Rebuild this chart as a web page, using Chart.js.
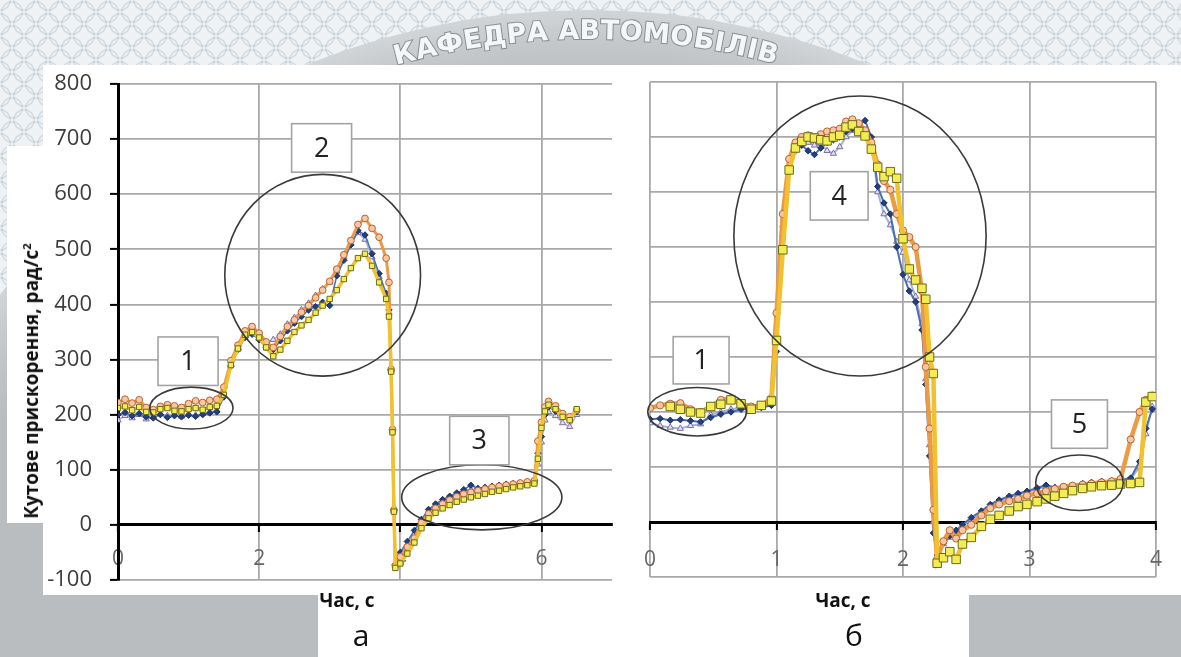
<!DOCTYPE html>
<html lang="uk">
<head>
<meta charset="utf-8">
<title>Кутове прискорення</title>
<script src="https://cdn.jsdelivr.net/npm/chart.js@4.4.1/dist/chart.umd.min.js"></script>
<style>
  html, body { margin: 0; padding: 0; }
  body {
    width: 1181px; height: 657px; position: relative; overflow: hidden;
    background-color: #eff2f4;
    background-image:
      radial-gradient(circle, transparent 9px, rgba(160,176,190,0.42) 10px, transparent 11.5px),
      radial-gradient(circle, transparent 9px, rgba(160,176,190,0.42) 10px, transparent 11.5px);
    background-size: 24px 24px;
    background-position: 0 0, 12px 12px;
    font-family: "Open Sans", sans-serif;
  }
  #seal { position: absolute; left: 0; top: 0; }
  .panel { position: absolute; background: #fff; }
  canvas.plot { position: absolute; top: 0; }
  #ytitle {
    position: absolute; left: 31px; top: 381px; white-space: nowrap;
    transform: translate(-50%, -50%) rotate(-90deg);
    font: bold 19px "Open Sans", sans-serif; color: #111; line-height: 22px;
  }
  #ytitle sup { font-size: 0.6em; line-height: 0; }
  .xt {
    position: absolute; top: 590px; transform: translateX(-50%); white-space: nowrap;
    font: bold 19px "Open Sans", sans-serif; color: #111; line-height: 20px;
  }
  .cap {
    position: absolute; top: 620px; transform: translateX(-50%);
    font: 30px "Open Sans", sans-serif; color: #111; line-height: 30px;
  }
</style>
</head>
<body>
<canvas id="seal" width="1181" height="657"></canvas>
<div class="panel" style="left:43px;top:65px;width:1138px;height:530px"></div>
<div class="panel" style="left:7px;top:146px;width:36px;height:377px"></div>
<div class="panel" style="left:318px;top:595px;width:651px;height:62px"></div>
<canvas id="chartA" class="plot" width="625" height="657" style="left:0"></canvas>
<canvas id="chartB" class="plot" width="556" height="657" style="left:625px"></canvas>
<div id="ytitle">Кутове прискорення, рад/с<sup>2</sup></div>
<div class="xt" style="left:347px">Час, с</div>
<div class="xt" style="left:843px">Час, с</div>
<div class="cap" style="left:361px">а</div>
<div class="cap" style="left:854px">б</div>
<script>
// ---------- axis ticks ----------
const yTicks  = [-100, 0, 100, 200, 300, 400, 500, 600, 700, 800];
const xTicksA = [0, 2, 4, 6];
const xTicksB = [0, 1, 2, 3, 4];

// ---------- panel "а": time, s ----------
const tA = [0,0.1,0.2,0.3,0.4,0.5,0.6,0.7,0.8,0.9,1.0,1.1,1.2,1.3,1.4,
  1.5,1.6,1.7,1.8,1.9,2.0,2.1,2.2,2.3,2.4,2.5,2.6,2.7,2.8,2.9,
  3.0,3.1,3.2,3.3,3.4,3.5,3.6,3.7,3.8,
  3.84,3.87,3.89,3.91,3.93,
  4.0,4.1,4.2,4.3,4.4,4.5,4.6,4.7,4.8,4.9,5.0,5.1,5.2,5.3,5.4,5.5,5.6,5.7,5.8,5.9,
  5.95,6.0,6.05,6.1,
  6.2,6.3,6.4,6.5];

// angular acceleration, rad/s^2
const orangeA = [222,228,221,227,213,209,215,218,216,213,220,225,222,226,228,
  250,298,326,352,360,348,332,322,342,360,372,386,398,412,426,
  442,464,490,516,545,556,538,522,484,
  440,282,173,27,-74,
  -58,-40,-24,4,20,30,38,45,51,56,59,62,65,68,70,72,74,76,78,80,
  152,186,214,224,
  216,202,196,208];
const yellowA = [212,215,208,214,205,204,210,212,207,206,210,212,209,214,216,
  236,290,320,345,350,340,322,306,318,334,350,362,372,385,398,
  410,426,446,466,484,492,470,440,410,
  378,278,168,24,-78,
  -70,-52,-32,-6,12,22,30,36,42,46,50,53,56,60,62,65,68,70,72,75,
  120,176,206,218,
  210,196,190,210];
const blueA = [200,204,198,202,196,194,200,195,198,196,199,197,200,203,205,
  232,288,318,340,346,336,322,318,334,352,366,378,390,396,404,
  398,452,480,508,534,526,492,456,420,
  390,280,172,26,-72,
  -50,-30,-10,10,28,38,46,52,58,64,72,66,68,70,72,74,75,76,78,80,
  130,160,200,214,
  206,200,190,205];
const lilacA = [190,198,194,200,192,196,202,198,200,197,201,199,202,205,208,
  236,292,322,342,348,338,332,336,346,364,376,390,402,416,428,
  440,460,486,510,530,518,486,450,415,
  385,280,170,25,-74,
  -55,-36,-16,6,24,34,42,48,55,60,64,65,67,69,71,73,74,75,77,79,
  110,150,190,205,
  198,185,178,200];

// ---------- panel "б": time, s ----------
const tB = [0,0.08,0.16,0.24,0.32,0.40,0.48,0.56,0.64,0.72,0.80,0.88,0.96,
  1.00,1.05,1.10,1.15,1.20,1.25,1.30,1.35,1.40,1.45,1.50,1.55,1.60,1.65,1.70,1.75,1.80,1.85,1.90,1.95,2.00,2.05,2.10,2.15,
  2.18,2.21,2.24,2.27,
  2.32,2.37,2.42,2.47,
  2.54,2.62,2.69,2.76,2.84,2.91,2.98,3.06,3.13,3.20,3.27,3.34,3.42,3.49,3.57,3.65,3.72,3.80,3.87,3.92,3.97];

const orangeB = [207,212,215,216,205,200,210,222,225,215,210,212,225,
  380,560,660,690,700,703,700,705,710,712,715,728,732,725,712,690,650,620,604,560,530,518,500,420,
  282,170,22,-68,
  -35,-15,-30,-15,
  -5,12,25,32,38,42,48,52,56,60,64,66,68,70,72,74,78,150,200,222,230];
const yellowB = [null,null,210,205,200,198,210,214,222,215,205,212,220,
  330,495,640,680,692,700,698,695,693,700,703,718,722,710,702,678,645,628,637,625,515,460,440,425,
  405,300,270,-75,
  -65,-54,-68,-40,
  -28,-8,5,12,20,28,32,37,42,47,52,57,61,64,66,67,69,70,72,218,228];
const blueB = [187,188,185,186,184,182,190,196,200,205,206,208,212,
  310,520,640,675,685,675,668,680,690,695,700,710,715,720,730,700,610,580,560,500,450,420,400,349,
  250,120,-20,-60,
  -38,-25,-15,-5,
  8,20,32,40,47,52,56,62,67,63,65,67,70,72,74,75,76,80,110,170,205];
const lilacB = [180,175,172,170,175,178,195,200,205,208,205,210,215,
  340,540,650,680,690,690,685,688,675,670,682,700,712,715,710,690,600,560,540,510,490,440,410,360,
  260,140,0,-65,
  -40,-28,-18,-8,
  5,16,28,36,44,50,54,60,64,62,64,66,68,70,72,73,75,78,100,160,210];

// ---------- callouts (data units: s, rad/s^2) ----------
const notesA = [
  { kind: 'ellipse', cx: 1.04, cy: 212, rx: 0.59, ry: 38 },
  { kind: 'box', x0: 0.567, x1: 1.418, y0: 253, y1: 341, text: '1' },
  { kind: 'ellipse', cx: 2.90, cy: 453, rx: 1.387, ry: 183 },
  { kind: 'box', x0: 2.46, x1: 3.31, y0: 640, y1: 728, text: '2' },
  { kind: 'ellipse', cx: 5.155, cy: 50, rx: 1.135, ry: 59 },
  { kind: 'box', x0: 4.70, x1: 5.54, y0: 109, y1: 197, text: '3' }
];
const notesB = [
  { kind: 'ellipse', cx: 0.3725, cy: 200.5, rx: 0.39, ry: 44 },
  { kind: 'box', x0: 0.183, x1: 0.625, y0: 251, y1: 337, text: '1' },
  { kind: 'ellipse', cx: 1.66, cy: 520, rx: 0.997, ry: 254.5 },
  { kind: 'box', x0: 1.267, x1: 1.724, y0: 549, y1: 637, text: '4' },
  { kind: 'ellipse', cx: 3.395, cy: 71.3, rx: 0.346, ry: 50.5 },
  { kind: 'box', x0: 3.174, x1: 3.616, y0: 134, y1: 222, text: '5' }
];

// ---------- emblem lettering in the page header ----------
(function drawSeal() {
  const g = document.getElementById('seal').getContext('2d');
  const cx = 588, cy = 760, R = 750;
  const grad = g.createRadialGradient(cx, cy, 680, cx, cy, R);
  grad.addColorStop(0, '#b9bdc0');
  grad.addColorStop(0.55, '#c4c8cb');
  grad.addColorStop(1, '#d2d5d7');
  g.beginPath(); g.arc(cx, cy, R, 0, Math.PI * 2); g.fillStyle = grad; g.fill();
  g.font = 'bold 27px "DejaVu Sans"';
  g.textAlign = 'center'; g.textBaseline = 'middle';
  const r = 728;
  let a = Math.asin((394 - cx) / r);
  for (const ch of 'КАФЕДРА АВТОМОБІЛІВ') {
    const w = g.measureText(ch).width + 0.5;
    const mid = a + w / 2 / r;
    g.save();
    g.translate(cx + r * Math.sin(mid), cy - r * Math.cos(mid));
    g.rotate(mid);
    g.lineWidth = 2; g.strokeStyle = 'rgba(115,120,125,0.75)'; g.strokeText(ch, 0, 0);
    g.fillStyle = '#f5f6f7'; g.fillText(ch, 0, 0);
    g.restore();
    a += w / r;
  }
})();

// ---------- chart helpers ----------
const notesPlugin = {
  id: 'notes',
  afterDatasetsDraw(chart, args, opts) {
    const { ctx } = chart;
    const x = chart.scales.x, y = chart.scales.y;
    (opts.items || []).forEach(it => {
      ctx.save();
      if (it.kind === 'ellipse') {
        const px = x.getPixelForValue(it.cx), py = y.getPixelForValue(it.cy);
        const rx = Math.abs(x.getPixelForValue(it.cx + it.rx) - px);
        const ry = Math.abs(y.getPixelForValue(it.cy + it.ry) - py);
        ctx.beginPath(); ctx.ellipse(px, py, rx, ry, 0, 0, Math.PI * 2);
        ctx.strokeStyle = '#3a3a3a'; ctx.lineWidth = 1.6; ctx.stroke();
      } else {
        const l = x.getPixelForValue(it.x0), r = x.getPixelForValue(it.x1);
        const t = y.getPixelForValue(it.y1), b = y.getPixelForValue(it.y0);
        ctx.fillStyle = '#fff'; ctx.fillRect(l, t, r - l, b - t);
        ctx.strokeStyle = '#a3a3a3'; ctx.lineWidth = 1.6; ctx.strokeRect(l, t, r - l, b - t);
        ctx.fillStyle = '#222'; ctx.font = '27px "Open Sans"';
        ctx.textAlign = 'center'; ctx.textBaseline = 'middle';
        ctx.fillText(it.text, (l + r) / 2, (t + b) / 2 + 1);
      }
      ctx.restore();
    });
  }
};

function line(t, vals, style) {
  const pts = [];
  t.forEach((x, i) => { if (vals[i] !== null) pts.push({ x: x, y: vals[i] }); });
  return Object.assign({ data: pts, showLine: true, tension: 0, pointBorderWidth: 1 }, style);
}

function styles(big) {
  return {
    yellow: { borderColor: '#f2c12e', borderWidth: big ? 4.5 : 3.5, pointStyle: 'rect', pointRadius: big ? 6 : 3.8,
              pointBackgroundColor: '#f3ec55', pointBorderColor: '#6b6b1a' },
    orange: { borderColor: '#eb9a45', borderWidth: big ? 4.5 : 3, pointStyle: 'circle', pointRadius: big ? 3.6 : 3.4,
              pointBackgroundColor: '#f7c6a3', pointBorderColor: '#b8642e' },
    blue:   { borderColor: '#4b6fb3', borderWidth: big ? 2 : 1.5, pointStyle: 'rectRot', pointRadius: 3.2,
              pointBackgroundColor: '#233f80', pointBorderColor: '#1b2f60' },
    lilac:  { borderColor: '#9fb3dd', borderWidth: big ? 2 : 1.5, pointStyle: 'triangle', pointRadius: 3.6,
              pointBackgroundColor: '#e3dcf0', pointBorderColor: '#7d6fa3' }
  };
}

const gridGrey = '#a9a9a9';
const yTickFont = { family: 'Open Sans', size: 22 };
const xTickFont = { family: 'Open Sans', size: 21 };

function makeChart(id, t, vals, xMax, xTicks, pad, notes, yWidth, xPad) {
  const withYLabels = yWidth > 0;
  const st = styles(!withYLabels);
  return new Chart(document.getElementById(id), {
    type: 'scatter',
    data: {
      datasets: [
        line(t, vals.yellow, st.yellow),
        line(t, vals.orange, st.orange),
        line(t, vals.blue, st.blue),
        line(t, vals.lilac, st.lilac)
      ]
    },
    options: {
      responsive: false, animation: false, devicePixelRatio: 1,
      layout: { padding: pad },
      plugins: { legend: { display: false }, tooltip: { enabled: false }, notes: { items: notes } },
      scales: {
        x: {
          type: 'linear', min: 0, max: xMax, position: { y: 0 },
          afterBuildTicks: s => { s.ticks = xTicks.map(v => ({ value: v })); },
          grid: { color: gridGrey, lineWidth: 1.8, drawTicks: true, tickLength: 6, tickColor: '#000', tickWidth: 2 },
          border: { display: true, color: '#000', width: 3 },
          ticks: { padding: xPad, color: '#666', font: xTickFont, maxRotation: 0, autoSkip: false }
        },
        y: {
          type: 'linear', min: -100, max: 800,
          afterBuildTicks: s => { s.ticks = yTicks.map(v => ({ value: v })); },
          afterFit: s => { s.width = yWidth; },
          grid: withYLabels
            ? { color: gridGrey, lineWidth: 1.8, tickLength: 8, tickColor: '#000', tickWidth: 2 }
            : { color: gridGrey, lineWidth: 1.8, drawTicks: false },
          border: withYLabels ? { color: '#000', width: 3 } : { display: false },
          ticks: { display: withYLabels, padding: 18, color: '#3c3c3c', font: yTickFont, autoSkip: false }
        }
      }
    },
    plugins: [notesPlugin]
  });
}

makeChart('chartA', tA, { yellow: yellowA, orange: orangeA, blue: blueA, lilac: lilacA },
  7, xTicksA, { left: 0, top: 84, right: 13, bottom: 77 }, notesA, 118, 16);
makeChart('chartB', tB, { yellow: yellowB, orange: orangeB, blue: blueB, lilac: lilacB },
  4, xTicksB, { left: 13, top: 82, right: 9, bottom: 80 }, notesB, 0, 19);
</script>
</body>
</html>
